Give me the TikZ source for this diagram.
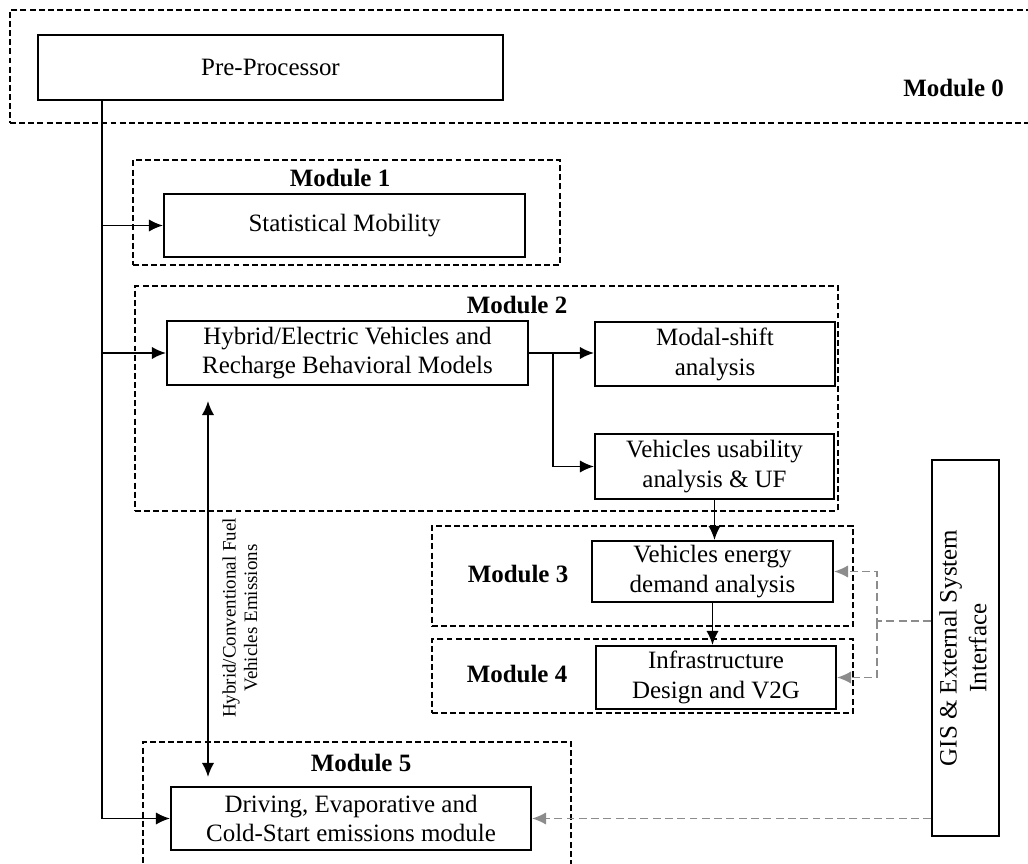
\documentclass[tikz,border=0pt]{standalone}
\usepackage{fontspec}
\setmainfont{Liberation Serif}
\usepackage{graphicx}
\usetikzlibrary{arrows.meta,positioning,calc}

\definecolor{gisgray}{RGB}{140,140,140}
\newcommand{\mainsize}{\fontsize{14.2}{17}\selectfont}
\newcommand{\smallsize}{\fontsize{10.8}{12.2}\selectfont}

\begin{document}
\begin{tikzpicture}[
    % --- styles ---
    box/.style={draw, line width=1.1pt, rectangle, align=center, inner sep=2pt, font=\mainsize},
    frame/.style={draw, line width=0.9pt, dash pattern=on 3.4pt off 1.8pt, rectangle, inner sep=0pt},
    mod label/.style={font=\mainsize\bfseries},
    % solid arrows between blocks
    flow/.style={line width=1.1pt, -{Latex[length=8pt, width=7pt]}},
    both flow/.style={line width=1.1pt, {Latex[length=8pt, width=7pt]}-{Latex[length=8pt, width=7pt]}},
    % grey dashed arrows from the GIS interface
    gis flow/.style={line width=0.9pt, gisgray, dash pattern=on 4.5pt off 2.5pt, -{Latex[length=8pt, width=7pt]}}
]

    % page size of the reference, frames may run past it
    \useasboundingbox (0,0) rectangle (20.56,17.26);
    \clip (0,0) rectangle (20.56,17.26);

    % --- 1. module frames (dashed) ---
    \node[frame, minimum width=20.6cm, minimum height=2.26cm] (mod0) at (10.5,15.93) {};
    \node[frame, minimum width=8.54cm, minimum height=2.1cm] (mod1) at (6.93,13.01) {};
    \node[frame, minimum width=14.06cm, minimum height=4.5cm] (mod2) at (9.73,9.29) {};
    \node[frame, minimum width=8.42cm, minimum height=2.0cm] (mod3) at (12.85,5.74) {};
    \node[frame, minimum width=8.42cm, minimum height=1.48cm] (mod4) at (12.85,3.74) {};
    \node[frame, minimum width=8.56cm, minimum height=3.42cm] (mod5) at (7.14,0.71) {};

    \node[mod label, anchor=east] (lab0) at (20.2,15.5) {Module 0};
    \node[mod label] (lab1) at (6.8,13.7) {Module 1};
    \node[mod label] (lab2) at (10.34,11.16) {Module 2};
    \node[mod label] (lab3) at (10.36,5.78) {Module 3};
    \node[mod label] (lab4) at (10.34,3.78) {Module 4};
    \node[mod label] (lab5) at (7.22,2.0) {Module 5};

    % --- 2. blocks ---
    \node[box, minimum width=9.3cm, minimum height=1.3cm] (pre) at (5.41,15.91) {Pre-Processor};
    \node[box, minimum width=7.22cm, minimum height=1.26cm] (stat) at (6.89,12.75) {Statistical Mobility};
    \node[box, minimum width=7.22cm, minimum height=1.28cm] (hyb) at (6.95,10.2) {Hybrid/Electric Vehicles and\\Recharge Behavioral Models};
    \node[box, minimum width=4.8cm, minimum height=1.28cm] (modal) at (14.3,10.18) {Modal-shift\\analysis};
    \node[box, minimum width=4.78cm, minimum height=1.3cm] (usab) at (14.29,7.93) {Vehicles usability\\analysis \& UF};
    \node[box, minimum width=4.82cm, minimum height=1.22cm] (energy) at (14.25,5.83) {Vehicles energy\\demand analysis};
    \node[box, minimum width=4.8cm, minimum height=1.26cm] (infra) at (14.32,3.71) {Infrastructure\\Design and V2G};
    \node[box, minimum width=7.2cm, minimum height=1.26cm] (drive) at (7.02,0.89) {Driving, Evaporative and\\Cold-Start emissions module};
    \node[box, minimum width=1.26cm, minimum height=7.52cm] (gis) at (19.31,4.3)
        {\rotatebox{90}{\begin{tabular}{@{}c@{}}GIS \& External System\\Interface\end{tabular}}};

    % --- 3. connectors ---
    \coordinate (trunk) at (2.04,0);
    \coordinate (split) at (11.06,0);
    \coordinate (emis) at (4.16,0);
    \coordinate (gjoin) at (17.54,4.84);

    % main trunk from the pre-processor
    \draw[flow] (pre.south -| trunk) |- (drive.west);
    \draw[flow] (trunk |- stat.west) -- (stat.west);
    \draw[flow] (trunk |- hyb.west) -- (hyb.west);

    % module 2 to 4
    \draw[flow] (hyb.east) -- (hyb.east -| modal.west);
    \draw[flow] (split |- hyb.east) |- (usab.west);
    \draw[flow] (usab.south) -- (usab.south |- energy.north);
    \draw[flow] (energy.south) -- (energy.south |- infra.north);

    % emissions link
    \draw[both flow, shorten <=0.3cm, shorten >=0.18cm] (hyb.south -| emis) -- (drive.north -| emis);
    \node[font=\smallsize, rotate=90, align=center] (emislabel) at (4.80,4.9) {Hybrid/Conventional Fuel\\Vehicles Emissions};

    % GIS links
    \draw[gis flow] (gis.west |- gjoin) -- (gjoin) |- (energy.east);
    \draw[gis flow] (gjoin) |- (infra.east);
    \draw[gis flow] (gis.west |- drive.east) -- (drive.east);

\end{tikzpicture}
\end{document}
